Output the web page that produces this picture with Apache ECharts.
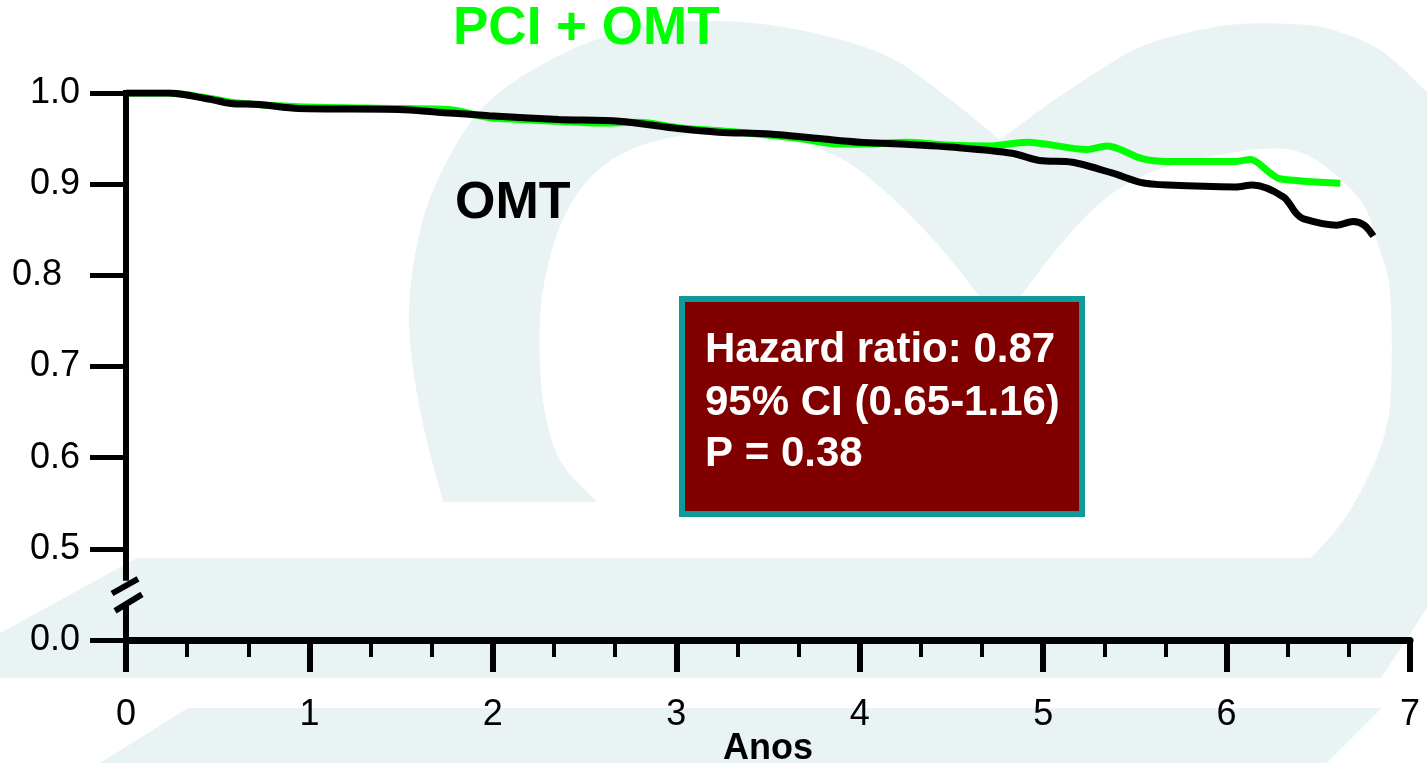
<!DOCTYPE html>
<html>
<head>
<meta charset="utf-8">
<script src="https://cdn.jsdelivr.net/npm/echarts@6/dist/echarts.min.js"></script>
<style>
  html, body { margin: 0; padding: 0; background: #ffffff; }
  #chart { width: 1427px; height: 763px; }
</style>
</head>
<body>
<div id="chart"></div>
<script>
// Kaplan-Meier survival curves (years of follow-up vs. event-free proportion)
const pciYears = [0, 0.23, 0.46, 0.61, 0.94, 1.49, 1.76, 1.98, 2.36, 2.58, 2.80, 3.01, 3.34, 3.67, 3.83, 4.02, 4.25, 4.47, 4.72, 4.91, 5.24, 5.35, 5.54, 5.68, 6.05, 6.13, 6.24, 6.29, 6.62];
const pciSurvival = [1.000, 1.000, 0.994, 0.989, 0.985, 0.983, 0.982, 0.973, 0.969, 0.967, 0.968, 0.962, 0.957, 0.950, 0.945, 0.944, 0.946, 0.943, 0.942, 0.946, 0.938, 0.942, 0.928, 0.925, 0.925, 0.927, 0.912, 0.906, 0.901];

const omtYears = [0, 0.23, 0.46, 0.60, 0.67, 0.94, 1.49, 1.70, 1.98, 2.36, 2.69, 3.01, 3.23, 3.51, 3.78, 4.00, 4.22, 4.54, 4.83, 4.98, 5.16, 5.38, 5.53, 5.68, 6.05, 6.14, 6.31, 6.38, 6.42, 6.60, 6.69, 6.75, 6.80];
const omtSurvival = [1.000, 1.000, 0.993, 0.988, 0.988, 0.983, 0.982, 0.979, 0.975, 0.971, 0.969, 0.961, 0.957, 0.955, 0.950, 0.946, 0.944, 0.940, 0.934, 0.926, 0.924, 0.912, 0.902, 0.899, 0.897, 0.899, 0.886, 0.868, 0.862, 0.855, 0.859, 0.855, 0.843];

const seriesNames = ['PCI + OMT', 'OMT'];
const statsLines = ['Hazard ratio: 0.87', '95% CI (0.65-1.16)', 'P = 0.38'];
const xAxisTitle = 'Anos';
// the lowest y tick stands for 0.0 below the axis break
const yBreakValue = 0.4;

const FONT = '"Liberation Sans", Arial, Helvetica, sans-serif';
const WATERMARK = '#e9f3f4';

function zip(xs, ys) { return xs.map((x, i) => [x, ys[i]]); }

// Catmull-Rom sampling for the smooth outlines of the background emblem
function spline(pts, n) {
  const out = [];
  for (let i = 0; i < pts.length - 1; i++) {
    const p0 = pts[Math.max(i - 1, 0)], p1 = pts[i], p2 = pts[i + 1], p3 = pts[Math.min(i + 2, pts.length - 1)];
    for (let k = 0; k < n; k++) {
      const t = k / n, t2 = t * t, t3 = t2 * t;
      const f = (a, b, c, d) => 0.5 * (2 * b + (-a + c) * t + (2 * a - 5 * b + 4 * c - d) * t2 + (-a + 3 * b - 3 * c + d) * t3);
      out.push([f(p0[0], p1[0], p2[0], p3[0]), f(p0[1], p1[1], p2[1], p3[1])]);
    }
  }
  out.push(pts[pts.length - 1]);
  return out;
}

// background emblem: two arches and two slanted bands
const leftArch = [].concat(
  spline([[443, 502], [420, 410], [409, 321], [418, 240], [440, 175], [485, 105], [560, 55], [640, 27], [717, 21], [800, 30], [885, 55], [947, 97], [1000, 140]], 8),
  [[1000, 330]],
  spline([[980, 297], [940, 247], [890, 196], [840, 158], [780, 137], [717, 132], [660, 140], [620, 155], [590, 178], [565, 215], [548, 265], [540, 321], [543, 400], [560, 460], [597, 502]], 8)
);
const rightArch = [].concat(
  spline([[1000, 140], [1050, 103], [1100, 70], [1140, 47], [1190, 32], [1240, 24], [1290, 24], [1330, 29], [1380, 50], [1427, 92]], 8),
  [[1427, 600], [1310, 600]],
  spline([[1310, 559], [1340, 525], [1363, 487], [1383, 440], [1391, 389], [1390, 292], [1378, 245], [1363, 204], [1330, 170], [1297, 151], [1260, 149], [1230, 153], [1180, 163], [1140, 177], [1100, 203], [1060, 245], [1020, 297]], 8),
  [[1000, 330]]
);
const bandUpper = [[137, 558], [1427, 558], [1427, 608], [1381, 678], [0, 678], [0, 633]];
const bandLower = [[188, 708], [1382, 708], [1327, 763], [100, 763]];

const chart = echarts.init(document.getElementById('chart'), null, { renderer: 'canvas' });

const option = {
  backgroundColor: '#ffffff',
  animation: false,
  grid: { left: 126, right: 17, top: 93, bottom: 123, containLabel: false, outerBoundsMode: 'none' },
  xAxis: {
    type: 'value',
    min: 0, max: 7, interval: 1,
    name: xAxisTitle,
    nameLocation: 'middle',
    nameGap: 91,
    nameMoveOverlap: false,
    nameTextStyle: { fontFamily: FONT, fontSize: 36, fontWeight: 'bold', color: '#000' },
    axisLine: { show: true, onZero: false, lineStyle: { color: '#000', width: 7 } },
    axisTick: { show: true, inside: false, length: 32, lineStyle: { color: '#000', width: 6 } },
    minorTick: { show: true, splitNumber: 3, length: 17, lineStyle: { color: '#000', width: 4 } },
    axisLabel: { fontFamily: FONT, fontSize: 36, color: '#000', margin: 57 },
    splitLine: { show: false }
  },
  yAxis: {
    type: 'value',
    min: yBreakValue, max: 1.0, interval: 0.1,
    axisLine: { show: false },
    axisTick: { show: true, inside: false, length: 36, lineStyle: { color: '#000', width: 5 } },
    axisLabel: {
      margin: 46,
      formatter: function (v) {
        if (Math.abs(v - yBreakValue) < 1e-6) return '{n|0.0}';
        const s = v.toFixed(1);
        return s === '0.8' ? '{s|' + s + '}' : '{n|' + s + '}';
      },
      rich: {
        n: { fontFamily: FONT, fontSize: 36, color: '#000' },
        s: { fontFamily: FONT, fontSize: 36, color: '#000', padding: [0, 18, 0, 0] }
      }
    },
    splitLine: { show: false }
  },
  series: [
    {
      name: seriesNames[0],
      type: 'line',
      data: zip(pciYears, pciSurvival),
      showSymbol: false,
      smooth: 0.3,
      lineStyle: { color: '#00ff00', width: 7 },
      z: 3
    },
    {
      name: seriesNames[1],
      type: 'line',
      data: zip(omtYears, omtSurvival),
      showSymbol: false,
      smooth: 0.3,
      lineStyle: { color: '#000000', width: 7 },
      z: 4
    }
  ]
};
chart.setOption(option);

// y axis line with a break mark between 0.5 and 0.0
const pTop = chart.convertToPixel({ gridIndex: 0 }, [0, 1.0]);
const pHalf = chart.convertToPixel({ gridIndex: 0 }, [0, 0.5]);
const pBase = chart.convertToPixel({ gridIndex: 0 }, [0, yBreakValue]);
const ax = pTop[0];
const gapY = (f) => pHalf[1] + (pBase[1] - pHalf[1]) * f;
const axisStroke = { stroke: '#000', lineWidth: 6 };

chart.setOption({
  graphic: [
    { type: 'polygon', silent: true, z: -100, shape: { points: bandUpper }, style: { fill: WATERMARK } },
    { type: 'polygon', silent: true, z: -100, shape: { points: bandLower }, style: { fill: WATERMARK } },
    { type: 'polygon', silent: true, z: -100, shape: { points: leftArch }, style: { fill: WATERMARK } },
    { type: 'polygon', silent: true, z: -100, shape: { points: rightArch }, style: { fill: WATERMARK } },

    { type: 'line', silent: true, z: 50, shape: { x1: ax, y1: pTop[1] - 3, x2: ax, y2: gapY(0.35) }, style: axisStroke },
    { type: 'line', silent: true, z: 50, shape: { x1: ax - 14, y1: gapY(0.49), x2: ax + 12, y2: gapY(0.33) }, style: axisStroke },
    { type: 'line', silent: true, z: 50, shape: { x1: ax - 11, y1: gapY(0.68), x2: ax + 16, y2: gapY(0.5) }, style: axisStroke },
    { type: 'line', silent: true, z: 50, shape: { x1: ax, y1: gapY(0.6), x2: ax, y2: pBase[1] + 18 }, style: axisStroke },

    { type: 'text', silent: true, z: 60, style: { x: 453, y: 29, text: seriesNames[0], fill: '#00ff00', font: 'bold 53px ' + FONT, textAlign: 'left', textVerticalAlign: 'middle', verticalAlign: 'middle' } },
    { type: 'text', silent: true, z: 60, style: { x: 455, y: 204, text: seriesNames[1], fill: '#000000', font: 'bold 52px ' + FONT, textAlign: 'left', textVerticalAlign: 'middle', verticalAlign: 'middle' } },

    { type: 'rect', silent: true, z: 60, shape: { x: 682, y: 299, width: 400, height: 215 }, style: { fill: '#800000', stroke: '#0f999b', lineWidth: 6 } },
    { type: 'text', silent: true, z: 61, style: { x: 705, y: 350, text: statsLines[0], fill: '#ffffff', font: 'bold 42px ' + FONT, textAlign: 'left', textVerticalAlign: 'middle', verticalAlign: 'middle' } },
    { type: 'text', silent: true, z: 61, style: { x: 705, y: 403, text: statsLines[1], fill: '#ffffff', font: 'bold 42px ' + FONT, textAlign: 'left', textVerticalAlign: 'middle', verticalAlign: 'middle' } },
    { type: 'text', silent: true, z: 61, style: { x: 705, y: 454, text: statsLines[2], fill: '#ffffff', font: 'bold 42px ' + FONT, textAlign: 'left', textVerticalAlign: 'middle', verticalAlign: 'middle' } }
  ]
});
</script>
</body>
</html>
